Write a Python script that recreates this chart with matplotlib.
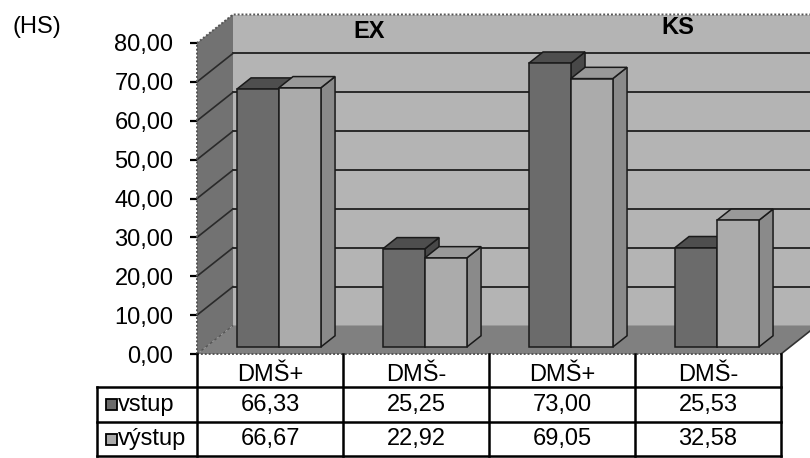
import matplotlib
matplotlib.use("Agg")
import matplotlib.pyplot as plt
from matplotlib.patches import Polygon, Rectangle
from matplotlib.lines import Line2D

# ---- data -------------------------------------------------------------
categories = ["DMŠ+", "DMŠ-", "DMŠ+", "DMŠ-"]
group_labels = ["EX", "KS"]
series_names = ["vstup", "výstup"]
vstup = [66.33, 25.25, 73.00, 25.53]
vystup = [66.67, 22.92, 69.05, 32.58]
y_ticks = [0, 10, 20, 30, 40, 50, 60, 70, 80]
unit_label = "(HS)"


def fmt(v):
    return f"{v:.2f}".replace(".", ",")


# ---- styling ----------------------------------------------------------
FONT = "Liberation Sans"
FS = 17
plt.rcParams["font.family"] = [FONT, "DejaVu Sans"]

c_back = "#b4b4b4"
c_side = "#727272"
c_floor = "#808080"
c_grid = "#2a2a2a"
series_faces = [
    ("#6b6b6b", "#4e4e4e", "#484848"),   # front, top, side
    ("#ababab", "#999999", "#8a8a8a"),
]

W, H = 810, 458
fig = plt.figure(figsize=(W / 100, H / 100), dpi=100)
fig.patch.set_facecolor("white")

# front plane of the plot box (pixels)
px_left, px_right = 197, 781
px_top, px_bottom = 43, 354
ax = fig.add_axes([px_left / W, 1 - px_bottom / H,
                   (px_right - px_left) / W, (px_bottom - px_top) / H])
n = len(categories)
ymax = y_ticks[-1]
ax.set_xlim(-0.5, n - 0.5)
ax.set_ylim(0, ymax)
ax.patch.set_visible(False)
for s in ax.spines.values():
    s.set_visible(False)

ppx = (px_right - px_left) / n          # pixels per category
ppy = (px_bottom - px_top) / ymax       # pixels per unit


def X(px):
    return -0.5 + (px - px_left) / ppx


def Y(py):
    return (px_bottom - py) / ppy


DX, DY = 36 / ppx, 28.5 / ppy          # depth of the box
xl, xr = -0.5, n - 0.5


def poly(pts, fc, ec="none", lw=0, z=1, **kw):
    ax.add_patch(Polygon(pts, closed=True, facecolor=fc, edgecolor=ec,
                         linewidth=lw, zorder=z, clip_on=False, joinstyle="miter", **kw))


def line(xs, ys, **kw):
    kw.setdefault("clip_on", False)
    ax.add_line(Line2D(xs, ys, **kw))


# walls and floor
poly([(xl + DX, DY), (xr + DX, DY), (xr + DX, ymax + DY), (xl + DX, ymax + DY)], c_back, z=1)
poly([(xl, 0), (xl + DX, DY), (xl + DX, ymax + DY), (xl, ymax)], c_side, z=1)
poly([(xl, 0), (xr, 0), (xr + DX, DY), (xl + DX, DY)], c_floor, z=1)

# gridlines on back and side wall
for v in y_ticks[1:-1]:
    line([xl + DX, xr + DX], [v + DY, v + DY], color=c_grid, lw=1.4, zorder=2)
    line([xl, xl + DX], [v, v + DY], color=c_grid, lw=1.2, zorder=2)

# dotted outline of the box
dot = dict(color="#555555", lw=1.4, ls=(0, (1, 1)), zorder=3)
line([xl, xl], [0, ymax], **dot)
line([xl, xl + DX, xr + DX], [ymax, ymax + DY, ymax + DY], **dot)
line([xl, xr], [0, 0], **dot)
line([xl, xl + DX], [0, DY], color="#555555", lw=1.0, ls=(0, (2, 2)), zorder=3)
line([xr, xr + DX], [0, DY], color="#333333", lw=1.2, zorder=3)

# 3D bars
bw = 42 / ppx
f0, f1 = 0.245, 0.64
ox0, oy0 = f0 * DX, f0 * DY
ox1, oy1 = f1 * DX, f1 * DY
edge = dict(ec="#1a1a1a", lw=1.1)
for i in range(n):
    for j, vals in enumerate([vstup, vystup]):
        v = vals[i]
        front_c, top_c, side_c = series_faces[j]
        a = i - bw + j * bw
        b = a + bw
        poly([(b + ox0, oy0), (b + ox1, oy1), (b + ox1, v + oy1), (b + ox0, v + oy0)],
             side_c, z=4, **edge)
        poly([(a + ox0, v + oy0), (b + ox0, v + oy0), (b + ox1, v + oy1), (a + ox1, v + oy1)],
             top_c, z=4, **edge)
        poly([(a + ox0, oy0), (b + ox0, oy0), (b + ox0, v + oy0), (a + ox0, v + oy0)],
             front_c, z=4, **edge)

# y axis ticks
ax.set_xticks([])
ax.set_yticks(y_ticks)
ax.set_yticklabels([fmt(v) for v in y_ticks], fontsize=FS, fontfamily=FONT)
ax.tick_params(axis="y", length=5, width=1.6, color="black", pad=12, direction="out")

# group titles on the back wall
fig.text(369 / W, 1 - 32 / H, group_labels[0], fontsize=FS, fontweight="bold",
         ha="center", va="center")
fig.text(678 / W, 1 - 27 / H, group_labels[1], fontsize=FS, fontweight="bold",
         ha="center", va="center")
fig.text(12 / W, 1 - 27 / H, unit_label, fontsize=FS, ha="left", va="center")

# data table
row_px = [354, 387, 422, 456]
rows_y = [Y(p) for p in row_px]
leg_left = X(97)
tab = dict(color="black", lw=1.8, zorder=5, solid_capstyle="projecting")
for k in range(n + 1):
    line([k - 0.5, k - 0.5], [0, rows_y[-1]], **tab)
for y in rows_y[1:]:
    line([leg_left, xr], [y, y], **tab)
line([leg_left, leg_left], [rows_y[1], rows_y[-1]], **tab)

for i, cat in enumerate(categories):
    ax.text(i, Y(381), cat, fontsize=FS, ha="center", va="baseline", clip_on=False)
for r, vals in enumerate([vstup, vystup]):
    yc = (rows_y[r + 1] + rows_y[r + 2]) / 2
    for i, v in enumerate(vals):
        ax.text(i, yc, fmt(v), fontsize=FS, ha="center", va="center", clip_on=False)
    # legend key and series name
    kx0, kx1 = X(106), X(117)
    kh = 11 / ppy
    ax.add_patch(Rectangle((kx0, yc - kh / 2), kx1 - kx0, kh,
                           facecolor=series_faces[r][0], edgecolor="black", lw=1.3,
                           clip_on=False, zorder=6))
    ax.text(X(118), yc, series_names[r], fontsize=FS, ha="left", va="center",
            clip_on=False)

fig.savefig("out.png", dpi=100, facecolor="white")
